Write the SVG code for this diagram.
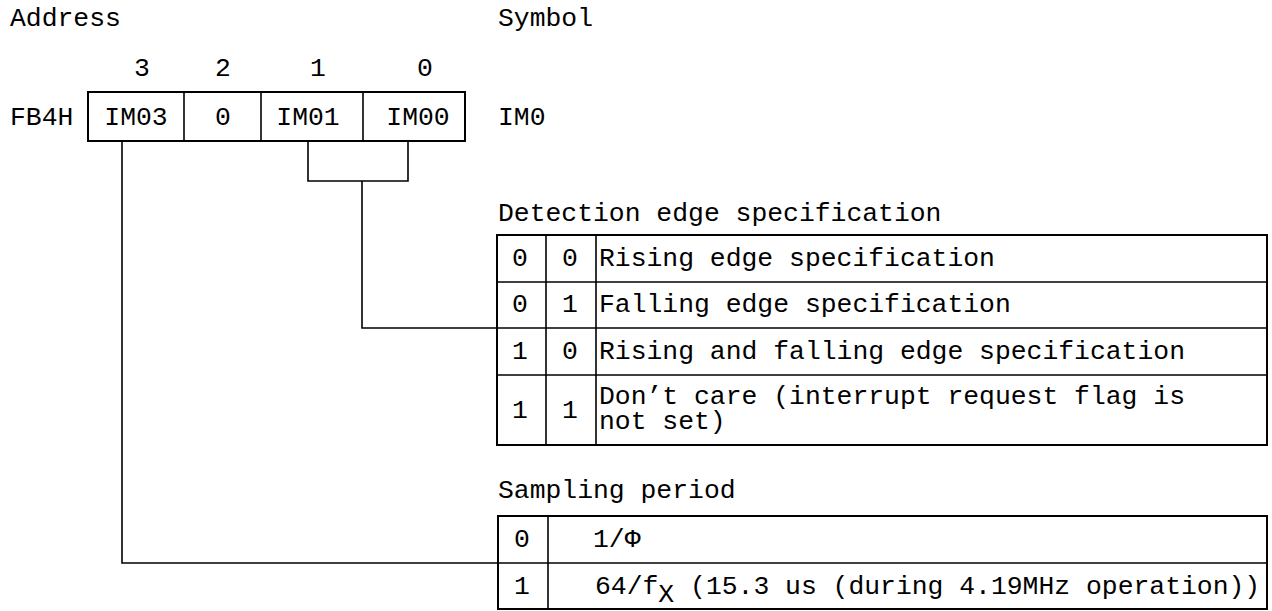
<svg xmlns="http://www.w3.org/2000/svg" width="1272" height="611" viewBox="0 0 1272 611">
<style>
text{font-family:"Liberation Mono","Courier New",monospace;font-size:26.4px;fill:#000}
.m{text-anchor:middle}
.box{fill:none;stroke:#000;stroke-width:2}
.ln{fill:none;stroke:#000;stroke-width:1.6}
.cn{fill:none;stroke:#000;stroke-width:1.6}
</style>
<rect width="1272" height="611" fill="#fff"/>
<g id="headings">
<text x="10" y="26">Address</text>
<text x="498" y="26">Symbol</text>
</g>
<g id="register">
<text class="m" x="142" y="76">3</text>
<text class="m" x="223" y="76">2</text>
<text class="m" x="318" y="76">1</text>
<text class="m" x="425" y="76">0</text>
<text x="10" y="125">FB4H</text>
<rect class="box" x="88" y="92" width="377" height="49"/>
<line class="ln" x1="184" y1="92" x2="184" y2="141"/>
<line class="ln" x1="261" y1="92" x2="261" y2="141"/>
<line class="ln" x1="363" y1="92" x2="363" y2="141"/>
<text class="m" x="136" y="125">IM03</text>
<text class="m" x="223" y="125">0</text>
<text class="m" x="308" y="125">IM01</text>
<text class="m" x="418" y="125">IM00</text>
<text x="498" y="125">IM0</text>
</g>
<g id="connectors">
<polyline class="cn" points="308,141 308,181 408,181 408,141"/>
<polyline class="cn" points="362,181 362,328 497,328"/>
<polyline class="cn" points="122,141 122,563 498,563"/>
</g>
<g id="detection-table">
<text x="498" y="221">Detection edge specification</text>
<rect class="box" x="497" y="235" width="770" height="210"/>
<line class="ln" x1="546" y1="235" x2="546" y2="445"/>
<line class="ln" x1="596" y1="235" x2="596" y2="445"/>
<line class="ln" x1="497" y1="282" x2="1267" y2="282"/>
<line class="ln" x1="497" y1="328" x2="1267" y2="328"/>
<line class="ln" x1="497" y1="375" x2="1267" y2="375"/>
<text class="m" x="520" y="266">0</text><text class="m" x="570" y="266">0</text>
<text x="599" y="266">Rising edge specification</text>
<text class="m" x="520" y="312">0</text><text class="m" x="570" y="312">1</text>
<text x="599" y="312">Falling edge specification</text>
<text class="m" x="520" y="359">1</text><text class="m" x="570" y="359">0</text>
<text x="599" y="359">Rising and falling edge specification</text>
<text class="m" x="520" y="418">1</text><text class="m" x="570" y="418">1</text>
<text x="599" y="404">Don’t care (interrupt request flag is</text>
<text x="599" y="429">not set)</text>
</g>
<g id="sampling-table">
<text x="498" y="498">Sampling period</text>
<rect class="box" x="498" y="516" width="769" height="93"/>
<line class="ln" x1="548" y1="516" x2="548" y2="609"/>
<line class="ln" x1="498" y1="563" x2="1267" y2="563"/>
<text class="m" x="522" y="547">0</text>
<text x="593" y="547">1/Φ</text>
<text class="m" x="522" y="594">1</text>
<text x="595" y="594">64/f<tspan dy="8">X</tspan><tspan dy="-8"> (15.3 us (during 4.19MHz operation))</tspan></text>
</g>
</svg>
